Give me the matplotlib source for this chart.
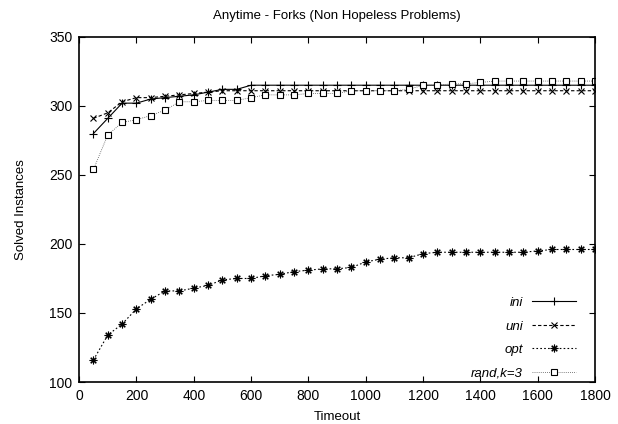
import numpy as np
import matplotlib
matplotlib.use('Agg')
import matplotlib.pyplot as plt

plt.rcParams['font.family'] = ['Liberation Sans', 'DejaVu Sans']

timeout = np.arange(50, 1801, 50)

ini = [280, 291, 302, 302, 305, 306, 307, 308, 310, 312, 312, 315,
       315, 315, 315, 315, 315, 315, 315, 315, 315, 315, 315, 315,
       315, 315, 315, 315, 315, 315, 315, 315, 315, 315, 315, 315]
uni = [291, 295, 303, 306, 306, 307, 308, 309, 310, 311, 311, 311,
       311, 311, 311, 311, 311, 311, 311, 311, 311, 311, 311, 311,
       311, 311, 311, 311, 311, 311, 311, 311, 311, 311, 311, 311]
opt = [116, 134, 142, 153, 160, 166, 166, 168, 170, 174, 175, 175,
       177, 178, 180, 181, 182, 182, 183, 187, 189, 190, 190, 193,
       194, 194, 194, 194, 194, 194, 194, 195, 196, 196, 196, 196]
rand3 = [254, 279, 288, 290, 293, 297, 303, 303, 304, 304, 304, 306,
         308, 308, 308, 309, 309, 309, 311, 311, 311, 311, 312, 315,
         315, 316, 316, 317, 318, 318, 318, 318, 318, 318, 318, 318]

fig = plt.figure(figsize=(6.18, 4.24), dpi=100)
ax = fig.add_axes([0.128, 0.099, 0.835, 0.814])

ax.plot(timeout, ini, color='black', lw=0.8, marker='+', ms=5.5, mew=0.8,
        label='ini')
ax.plot(timeout, uni, color='black', lw=0.8, ls=(0, (3, 2)), marker='x',
        ms=4.5, mew=0.8, label='uni')
ax.plot(timeout, opt, color='black', lw=0.8, ls=(0, (1.5, 2)),
        marker=(8, 2, 0), ms=5.5, mew=0.8, label='opt')
ax.plot(timeout, rand3, color='#555555', lw=0.6, ls=(0, (1, 1.5)),
        marker='s', ms=4.2, mew=0.8, mfc='white', mec='black',
        label='rand,k=3')

ax.set_xlim(0, 1800)
ax.set_ylim(100, 350)
ax.set_xticks(np.arange(0, 1801, 200))
ax.set_yticks(np.arange(100, 351, 50))
ax.tick_params(direction='in', top=True, right=True, labelsize=10,
               length=4, width=0.8, pad=5)
for s in ax.spines.values():
    s.set_linewidth(1.2)

ax.set_title('Anytime - Forks (Non Hopeless Problems)', fontsize=9.5, pad=13)
ax.set_xlabel('Timeout', fontsize=9.5, labelpad=6)
ax.set_ylabel('Solved Instances', fontsize=9.5, labelpad=16)

leg = ax.legend(loc='lower right', frameon=False, markerfirst=False,
                fontsize=9.5, handlelength=3.3, labelspacing=0.85,
                handletextpad=0.7, bbox_to_anchor=(0.985, -0.027))
for t in leg.get_texts():
    t.set_fontstyle('italic')

fig.savefig('out.png', dpi=100)
